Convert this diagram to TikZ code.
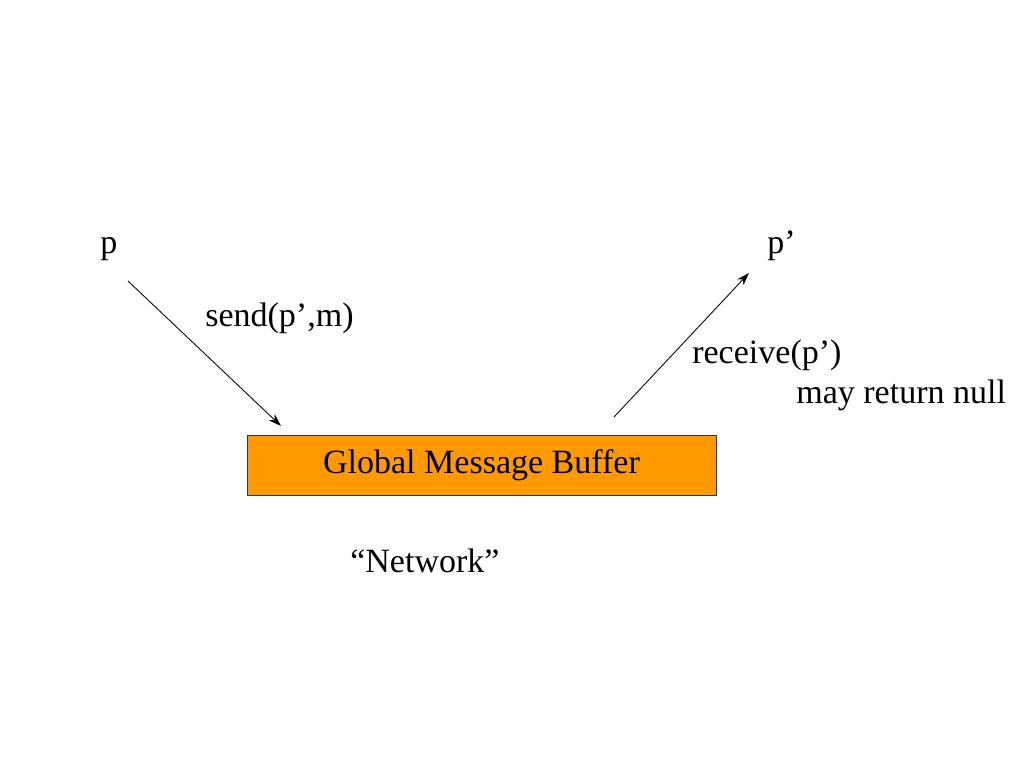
\documentclass[tikz,border=0pt]{standalone}
\usepackage{fontspec}
\setmainfont{Liberation Serif}
\usetikzlibrary{arrows.meta}
\definecolor{bufferorange}{RGB}{255,153,0}
\tikzset{
  lbl/.style={inner sep=0pt, anchor=base west, font=\fontsize{24}{29}\selectfont},
  buffer/.style={draw=black!80, fill=bufferorange, minimum width=11.63cm, minimum height=1.49cm, inner sep=0pt, font=\fontsize{24}{29}\selectfont}
}
\begin{document}
\begin{tikzpicture}[x=0.0248cm, y=-0.0248cm, >={Stealth[length=9pt,width=6pt]}]
  \useasboundingbox[fill=white] (0,0) rectangle (1024,768);
  \node[buffer] (buf) at (481.5,465) {Global Message Buffer};
  \node[lbl] (p) at (100,253) {p};
  \node[lbl] (q) at (767,253) {p’};
  \node[lbl] (send) at (205,326) {send(p’,m)};
  \node[lbl] (recv) at (692,363) {receive(p’)};
  \node[lbl] (null) at (796,403) {may return null};
  \node[lbl] (net) at (350,572) {“Network”};
  \coordinate (s1) at (128,281);
  \coordinate (s2) at (281,426);
  \coordinate (r1) at (614,417);
  \coordinate (r2) at (749,273);
  \draw[->, line width=0.6pt] (s1) -- (s2);
  \draw[->, line width=0.6pt] (r1) -- (r2);
\end{tikzpicture}
\end{document}
